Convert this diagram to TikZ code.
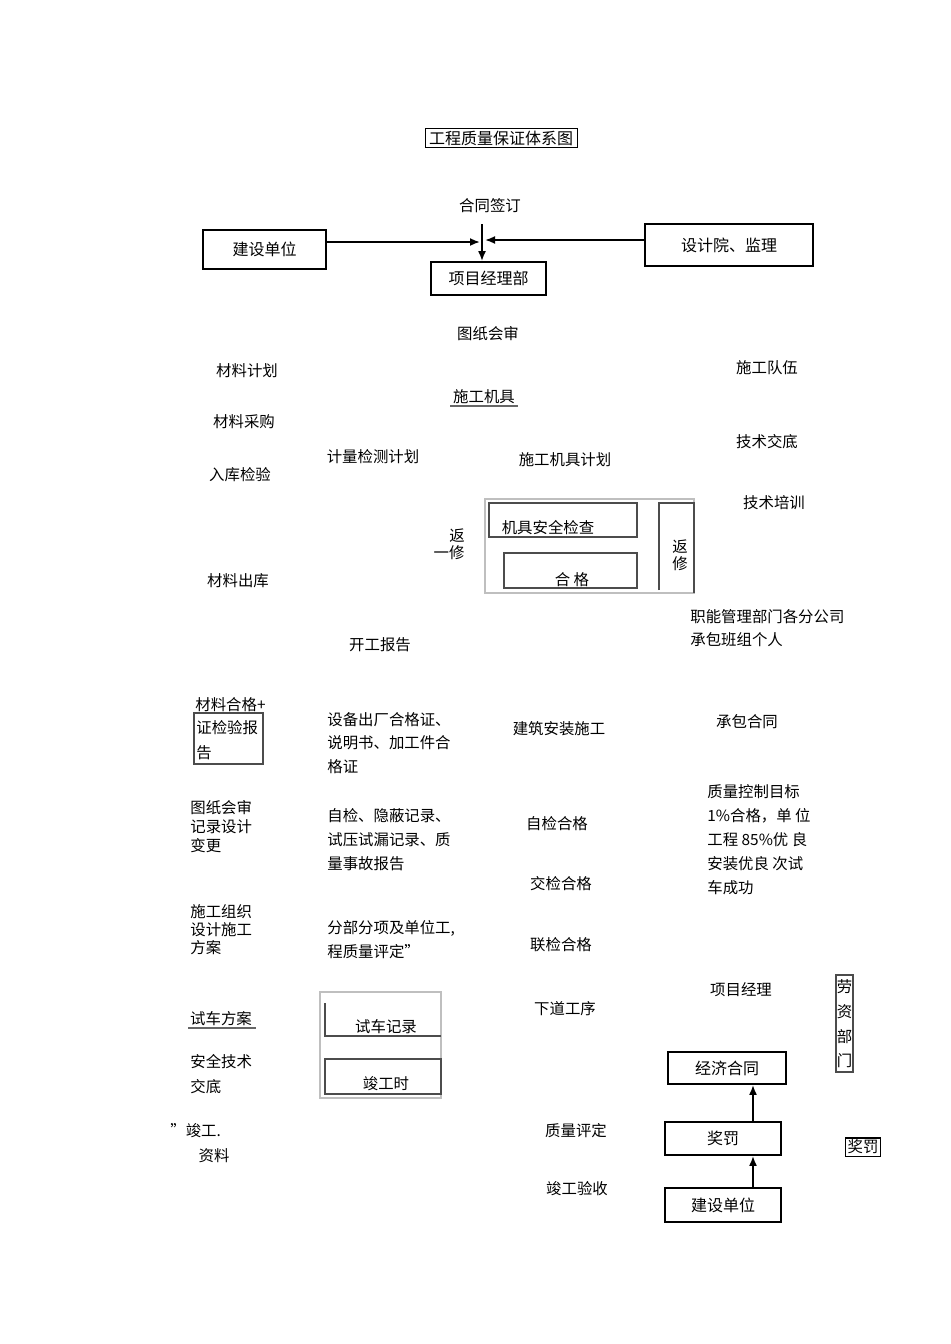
\documentclass[tikz,border=0pt]{standalone}
\usepackage{fontspec}
\setmainfont{Noto Sans CJK SC}
\usetikzlibrary{arrows.meta}

\tikzset{
  txt/.style={inner sep=0pt, font=\fontsize{7.7}{12}\selectfont},
  para/.style={txt, align=left, anchor=north west},
  unitbox/.style={draw, line width=0.9pt, inner sep=0pt, font=\fontsize{8}{10}\selectfont},
  framegray/.style={draw=black!25, line width=0.6pt},
  flow/.style={-{Latex[length=5pt,width=4pt]}, line width=0.9pt}
}

\begin{document}
\begin{tikzpicture}[x=0.5pt, y=-0.5pt]
  \useasboundingbox (0,0) rectangle (950,1344);

  % title and top row
  \node[draw, line width=0.5pt, inner sep=0pt, minimum width=76pt, minimum height=9.5pt,
        font=\fontsize{8}{10}\selectfont] (title) at (501,138) {工程质量保证体系图};
  \node[txt] (contract) at (490,206) {合同签订};
  \node[unitbox, minimum width=61.5pt, minimum height=19.5pt] (client) at (264.5,249.5) {建设单位};
  \node[unitbox, minimum width=84pt, minimum height=21pt] (design) at (729,245) {设计院、监理};
  \node[unitbox, minimum width=57.5pt, minimum height=16.5pt] (pmo) at (488.5,278.5) {项目经理部};
  \coordinate (sign) at (482,224);
  \coordinate (meetL) at (480,242);
  \coordinate (meetR) at (485,240);
  \draw[flow] (sign) -- (sign |- pmo.north);
  \draw[flow] (client.east |- meetL) -- (meetL);
  \draw[flow] (design.west |- meetR) -- (meetR);

  % preparation
  \node[txt] (drawrev) at (488,334) {图纸会审};
  \node[txt] (matplan) at (247,371) {材料计划};
  \node[txt] (team) at (767,368) {施工队伍};
  \node[txt] (machines) at (484,397) {施工机具};
  \draw[black!60, line width=0.8pt] (450,406) -- (518,406);
  \node[txt] (matbuy) at (244,422) {材料采购};
  \node[txt] (briefing) at (767,442) {技术交底};
  \node[txt] (meterplan) at (373,457) {计量检测计划};
  \node[txt] (machplan) at (565,460) {施工机具计划};
  \node[txt] (stockin) at (240,475) {入库检验};
  \node[txt] (training) at (774,503) {技术培训};

  % machine check
  \draw[framegray] (485,499) rectangle (694,593);
  \draw[black!70, line width=0.6pt] (489,503) rectangle (637,537);
  \node[txt] (safecheck) at (548,528) {机具安全检查};
  \draw[black!70, line width=0.6pt] (504,553) rectangle (637,588);
  \node[txt] (passed) at (572,580) {合\ 格};
  \draw[black!70, line width=0.6pt] (659,590) -- (659,503) -- (694,503) -- (694,593);
  \node[txt, align=center, font=\fontsize{7.7}{8.5}\selectfont] (repairR) at (680,555) {返\\修};
  \node[txt] (repairL1) at (457,536) {返};
  \node[txt] (repairL2) at (449,553) {一修};
  \node[txt] (matout) at (238,581) {材料出库};
  \node[para, font=\fontsize{7.7}{11.5}\selectfont] (depts) at (690,609) {职能管理部门各分公司\\承包班组个人};
  \node[txt] (startrep) at (380,645) {开工报告};

  % documents and checks
  \node[para] (matok) at (195,697) {材料合格+};
  \draw[black!70, line width=0.6pt] (194,713) rectangle (263,764);
  \node[para, font=\fontsize{7.7}{12.5}\selectfont] (testrep) at (196,720) {证检验报\\告};
  \node[para, font=\fontsize{7.7}{11.75}\selectfont] (equipcert) at (327,712) {设备出厂合格证、\\说明书、加工件合\\格证};
  \node[txt] (install) at (559,729) {建筑安装施工};
  \node[txt] (subcontract) at (747,722) {承包合同};
  \node[para, font=\fontsize{7.7}{9.5}\selectfont] (revrec) at (190,800) {图纸会审\\记录设计\\变更};
  \node[para, font=\fontsize{7.7}{12}\selectfont] (selfrec) at (327,808) {自检、隐蔽记录、\\试压试漏记录、质\\量事故报告};
  \node[txt] (selfok) at (557,824) {自检合格};
  \node[para, font=\fontsize{7.7}{12}\selectfont] (target) at (707,784) {质量控制目标\\1\%合格，单\ 位\\工程 85\%优\ 良\\安装优良\ 次试\\车成功};
  \node[txt] (handok) at (561,884) {交检合格};
  \node[para, font=\fontsize{7.7}{9}\selectfont] (orgplan) at (190,904) {施工组织\\设计施工\\方案};
  \node[para, font=\fontsize{7.7}{12}\selectfont] (grading) at (327,920) {分部分项及单位工,\\程质量评定”};
  \node[txt] (jointok) at (561,945) {联检合格};

  % trial run
  \node[txt] (testplan) at (221,1019) {试车方案};
  \draw[black!60, line width=0.8pt] (188,1028) -- (256,1028);
  \draw[framegray] (320,992) rectangle (441,1098);
  \draw[black!70, line width=0.6pt] (325,1003) -- (325,1036) -- (441,1036);
  \node[txt] (testrec) at (386,1027) {试车记录};
  \draw[black!70, line width=0.6pt] (325,1059) rectangle (441,1094);
  \node[txt] (donetime) at (386,1084) {竣工时};
  \node[txt] (nextstep) at (565,1009) {下道工序};
  \node[txt] (pm) at (741,990) {项目经理};
  \draw[black!70, line width=0.6pt] (836,975) rectangle (853,1072);
  \node[txt, align=center, font=\fontsize{7.7}{12.35}\selectfont] (labour) at (844.5,1024) {劳\\资\\部\\门};
  \node[para, font=\fontsize{7.7}{12.5}\selectfont] (safety) at (190,1054) {安全技术\\交底};

  % completion
  \node[txt, anchor=west] (donedoc) at (170,1131) {”竣工.};
  \node[txt] (donedoc2) at (214,1156) {资料};
  \node[txt] (qeval) at (576,1131) {质量评定};
  \node[txt] (accept) at (577,1189) {竣工验收};
  \node[unitbox, minimum width=59pt, minimum height=16pt] (econ) at (727,1068) {经济合同};
  \node[unitbox, minimum width=58pt, minimum height=16.5pt] (reward) at (723,1138.5) {奖罚};
  \node[unitbox, minimum width=58pt, minimum height=17pt] (client2) at (723,1205) {建设单位};
  \node[draw, line width=0.6pt, inner sep=1pt, font=\fontsize{7.7}{9}\selectfont] (reward2) at (863,1147) {奖罚};
  \draw[flow] ([xshift=15pt]client2.north) -- ([xshift=15pt]reward.south);
  \draw[flow] ([xshift=15pt]reward.north) -- ([xshift=15pt]reward.north |- econ.south);
\end{tikzpicture}
\end{document}
